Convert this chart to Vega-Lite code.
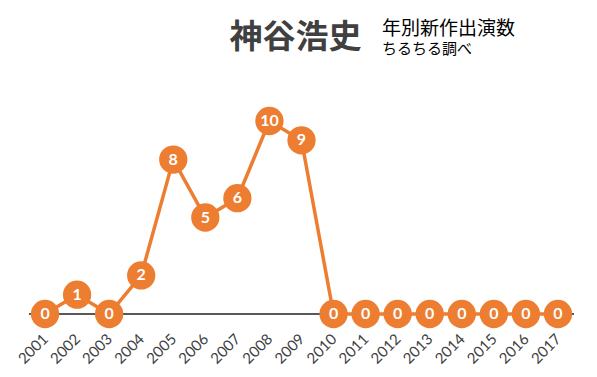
{
  "$schema": "https://vega.github.io/schema/vega-lite/v6.json",
  "width": 545,
  "height": 193,
  "autosize": {"type": "none"},
  "padding": {"left": 29, "top": 121, "right": 23, "bottom": 63},
  "background": "white",
  "config": {"view": {"stroke": null}},
  "title": {
    "text": "年別新作出演数",
    "subtitle": "ちるちる調べ",
    "anchor": "start",
    "frame": "group",
    "dx": 353,
    "dy": 40,
    "font": "Noto Sans CJK JP",
    "fontSize": 19,
    "fontWeight": "normal",
    "color": "#000000",
    "subtitleFont": "Noto Sans CJK JP",
    "subtitleFontSize": 15,
    "subtitleColor": "#000000",
    "subtitlePadding": 3
  },
  "data": {
    "values": [
      {"year": "2001", "count": 0},
      {"year": "2002", "count": 1},
      {"year": "2003", "count": 0},
      {"year": "2004", "count": 2},
      {"year": "2005", "count": 8},
      {"year": "2006", "count": 5},
      {"year": "2007", "count": 6},
      {"year": "2008", "count": 10},
      {"year": "2009", "count": 9},
      {"year": "2010", "count": 0},
      {"year": "2011", "count": 0},
      {"year": "2012", "count": 0},
      {"year": "2013", "count": 0},
      {"year": "2014", "count": 0},
      {"year": "2015", "count": 0},
      {"year": "2016", "count": 0},
      {"year": "2017", "count": 0}
    ]
  },
  "layer": [
    {
      "mark": {"type": "rule", "color": "#595959", "strokeWidth": 2},
      "encoding": {
        "y": {
          "datum": 0,
          "type": "quantitative",
          "scale": {"domain": [0, 10], "nice": false},
          "axis": {
            "title": "神谷浩史",
            "titleAngle": 0,
            "titleX": 266,
            "titleY": -74,
            "titleAlign": "center",
            "titleBaseline": "alphabetic",
            "titleFont": "Noto Sans CJK JP",
            "titleFontSize": 33,
            "titleFontWeight": "bold",
            "titleColor": "#404040",
            "labels": false,
            "ticks": false,
            "domain": false,
            "grid": false
          }
        }
      }
    },
    {
      "mark": {"type": "line", "color": "#ED7D31", "strokeWidth": 3.5},
      "encoding": {
        "x": {
          "field": "year",
          "type": "ordinal",
          "scale": {"type": "point", "padding": 0.5},
          "axis": {
            "title": null,
            "labelAngle": -45,
            "labelAlign": "right",
            "labelBaseline": "middle",
            "labelFont": "Lato",
            "labelFontSize": 15,
            "labelColor": "#404040",
            "labelPadding": 22,
            "ticks": false,
            "domain": false,
            "grid": false
          }
        },
        "y": {"field": "count", "type": "quantitative", "title": "神谷浩史"}
      }
    },
    {
      "mark": {"type": "circle", "size": 800, "color": "#ED7D31", "opacity": 1},
      "encoding": {
        "x": {"field": "year", "type": "ordinal"},
        "y": {"field": "count", "type": "quantitative", "title": "神谷浩史"}
      }
    },
    {
      "mark": {"type": "text", "color": "white", "font": "Lato", "fontWeight": "bold", "fontSize": 16, "baseline": "middle"},
      "encoding": {
        "x": {"field": "year", "type": "ordinal"},
        "y": {"field": "count", "type": "quantitative", "title": "神谷浩史"},
        "text": {"field": "count", "type": "quantitative"}
      }
    }
  ]
}
